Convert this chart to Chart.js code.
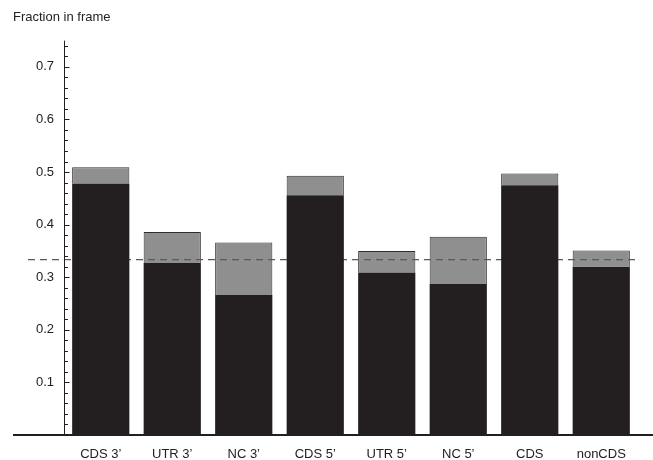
<!DOCTYPE html>
<html>
<head>
<meta charset="utf-8">
<script src="https://cdn.jsdelivr.net/npm/chart.js@4/dist/chart.umd.min.js"></script>
<style>
  html, body { margin: 0; padding: 0; background: #fff; }
  #wrap { width: 653px; height: 460px; }
</style>
</head>
<body>
<div id="wrap"><canvas id="c" width="653" height="460"></canvas></div>
<script>
// Region categories along the x axis
const categories = ["CDS 3’", "UTR 3’", "NC 3’", "CDS 5’", "UTR 5’", "NC 5’", "CDS", "nonCDS"];
// Lower (dark) and upper (grey top) fraction in frame for each region
const lowerFrac = [0.478, 0.327, 0.266, 0.456, 0.309, 0.287, 0.475, 0.320];
const upperFrac = [0.509, 0.386, 0.366, 0.493, 0.350, 0.377, 0.497, 0.351];
// Labelled y ticks and the chance level (one frame in three)
const yTickValues = [0.1, 0.2, 0.3, 0.4, 0.5, 0.6, 0.7];
const chanceLevel = 1 / 3;
const yMax = 0.748;

const FONT = "'Liberation Sans', Arial, Helvetica, sans-serif";
const INK = '#231f20';

const axesPlugin = {
  id: 'axesPlugin',
  afterDatasetDraw(chart, args) {
    // dashed chance line sits above the grey caps but under the dark bars
    if (args.index !== 1) return;
    const ctx = chart.ctx;
    const y = chart.scales.y.getPixelForValue(chanceLevel);
    ctx.save();
    ctx.strokeStyle = '#5a5a5a';
    ctx.lineWidth = 1.3;
    ctx.setLineDash([7, 5]);
    ctx.beginPath();
    ctx.moveTo(28, y);
    ctx.lineTo(chart.chartArea.right, y);
    ctx.stroke();
    ctx.restore();
  },
  afterDraw(chart) {
    const ctx = chart.ctx;
    const ys = chart.scales.y;
    const area = chart.chartArea;
    const x0 = Math.round(area.left) - 0.5;
    ctx.save();
    ctx.strokeStyle = INK;
    ctx.lineWidth = 1;
    // vertical axis
    ctx.beginPath();
    ctx.moveTo(x0, ys.getPixelForValue(yMax) - 1);
    ctx.lineTo(x0, ys.getPixelForValue(0));
    ctx.stroke();
    // inward tick marks: major every 0.1, minor every 0.02
    for (let k = 1; k <= 37; k++) {
      const v = k * 0.02;
      const y = Math.round(ys.getPixelForValue(v)) + 0.5;
      const major = (k % 5 === 0);
      ctx.beginPath();
      ctx.moveTo(x0, y);
      ctx.lineTo(x0 + (major ? 5 : 3.5), y);
      ctx.stroke();
    }
    // heavy baseline
    const yb = ys.getPixelForValue(0);
    ctx.lineWidth = 2.2;
    ctx.beginPath();
    ctx.moveTo(13, yb);
    ctx.lineTo(chart.width, yb);
    ctx.stroke();
    ctx.restore();
  }
};

new Chart(document.getElementById('c'), {
  type: 'bar',
  data: {
    labels: categories,
    datasets: [
      {
        data: lowerFrac,
        backgroundColor: INK,
        borderWidth: 0,
        barPercentage: 0.8,
        categoryPercentage: 1.0
      },
      {
        data: categories.map((_, i) => [lowerFrac[i], upperFrac[i]]),
        backgroundColor: '#8f8f8f',
        borderColor: '#2e2e2e',
        borderWidth: 1,
        borderSkipped: 'start',
        barPercentage: 0.8,
        categoryPercentage: 1.0
      }
    ]
  },
  options: {
    responsive: false,
    devicePixelRatio: 1,
    animation: false,
    layout: { padding: { left: 13, right: 16, top: 0, bottom: 0 } },
    plugins: {
      legend: { display: false },
      tooltip: { enabled: false },
      title: {
        display: true,
        text: 'Fraction in frame',
        align: 'start',
        color: '#222',
        font: { family: FONT, size: 13, weight: 'normal', lineHeight: 1.2 },
        padding: { top: 9.5, bottom: 16.5 }
      }
    },
    scales: {
      x: {
        stacked: true,
        grid: { display: false, drawTicks: false },
        border: { display: false },
        afterFit(scale) { scale.height = 25; },
        ticks: {
          color: '#222',
          padding: 12,
          font: { family: FONT, size: 13 },
          maxRotation: 0,
          autoSkip: false
        }
      },
      y: {
        min: 0,
        max: yMax,
        grid: { display: false, drawTicks: false },
        border: { display: false },
        afterBuildTicks(scale) {
          scale.ticks = yTickValues.map(v => ({ value: v }));
        },
        afterFit(scale) { scale.width = 52; },
        ticks: {
          color: '#222',
          padding: 11,
          font: { family: FONT, size: 13 },
          callback: v => Number(v).toFixed(1)
        }
      }
    }
  },
  plugins: [axesPlugin]
});
</script>
</body>
</html>
